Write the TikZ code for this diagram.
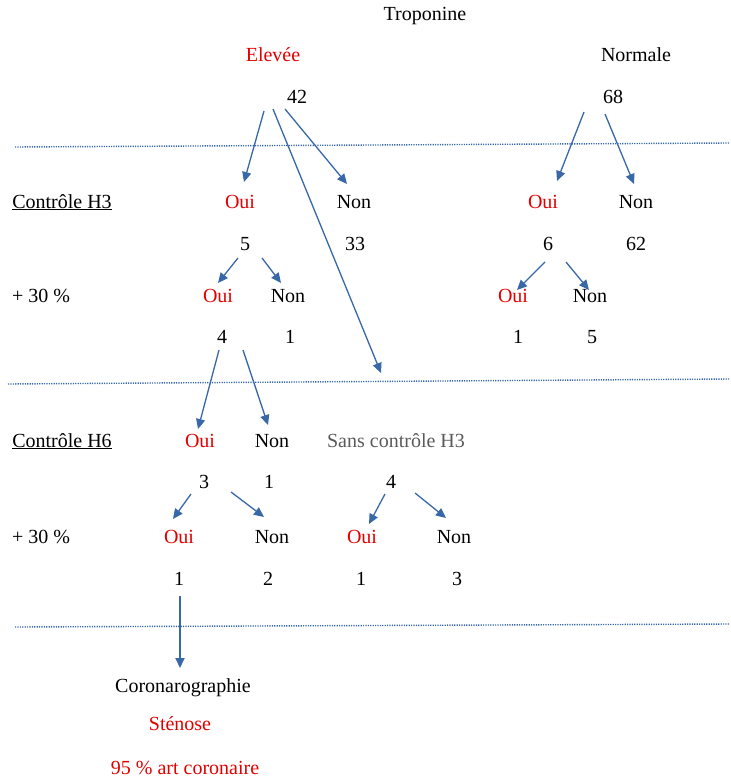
\documentclass[tikz,border=0pt]{standalone}
\usepackage{fontspec}
\setmainfont{Liberation Serif}
\usetikzlibrary{arrows.meta}
\definecolor{arrblue}{RGB}{56,104,168}
\definecolor{txtred}{RGB}{226,0,0}
\definecolor{txtgray}{RGB}{90,90,90}
\begin{document}
\begin{tikzpicture}[x=1pt,y=-1pt,
  lbl/.style={font=\fontsize{20}{24}\selectfont, inner sep=0pt, anchor=base, text=black},
  yes/.style={lbl, text=txtred},
  grey/.style={lbl, text=txtgray},
  arr/.style={draw=arrblue, line width=1.3pt, -{Triangle[length=10pt,width=9pt]}},
  sep/.style={draw=arrblue, line width=1.4pt, dash pattern=on 1.2pt off 1.2pt}]
\useasboundingbox (0,0) rectangle (730,778);

% separators
\coordinate (s1a) at (15,147); \coordinate (s1b) at (730,143);
\coordinate (s2a) at (8,384);  \coordinate (s2b) at (730,379);
\coordinate (s3a) at (15,627); \coordinate (s3b) at (730,624);
\draw[sep] (s1a) -- (s1b);
\draw[sep] (s2a) -- (s2b);
\draw[sep] (s3a) -- (s3b);

% top
\node[lbl] (trop) at (425,21) {Troponine};
\node[yes] (elev) at (273,62) {Elevée};
\node[lbl] (norm) at (636,62) {Normale};
\node[lbl] (n42) at (297,104) {42};
\node[lbl] (n68) at (613,104) {68};

% H3 row
\node[lbl] (ch3) at (62,208) {\underline{Contrôle H3}};
\node[yes] (oA) at (240,208) {Oui};
\node[lbl] (nA) at (354,208) {Non};
\node[yes] (oB) at (543,208) {Oui};
\node[lbl] (nB) at (636,208) {Non};

\node[lbl] (v5) at (245,250) {5};
\node[lbl] (v33) at (355,250) {33};
\node[lbl] (v6) at (548,250) {6};
\node[lbl] (v62) at (636,250) {62};

\node[lbl] (p30a) at (41,302) {+ 30 \%};
\node[yes] (oC) at (218,302) {Oui};
\node[lbl] (nC) at (288,302) {Non};
\node[yes] (oD) at (513,302) {Oui};
\node[lbl] (nD) at (590,302) {Non};

\node[lbl] (v4) at (222,343) {4};
\node[lbl] (v1a) at (290,343) {1};
\node[lbl] (v1b) at (518,343) {1};
\node[lbl] (v5b) at (592,343) {5};

% H6 row
\node[lbl] (ch6) at (62,447) {\underline{Contrôle H6}};
\node[yes] (oE) at (200,447) {Oui};
\node[lbl] (nE) at (272,447) {Non};
\node[grey] (sans) at (396,447) {Sans contrôle H3};

\node[lbl] (v3) at (204,488) {3};
\node[lbl] (v1c) at (269,488) {1};
\node[lbl] (v4b) at (391,488) {4};

\node[lbl] (p30b) at (41,543) {+ 30 \%};
\node[yes] (oF) at (179,543) {Oui};
\node[lbl] (nF) at (272,543) {Non};
\node[yes] (oG) at (362,543) {Oui};
\node[lbl] (nG) at (454,543) {Non};

\node[lbl] (v1d) at (179,585) {1};
\node[lbl] (v2) at (268,585) {2};
\node[lbl] (v1e) at (361,585) {1};
\node[lbl] (v3b) at (457,585) {3};

\node[lbl] (coro) at (183,692) {Coronarographie};
\node[yes] (sten) at (180,730) {Sténose};
\node[yes] (art) at (185,774) {95 \% art coronaire};

% arrow end points
\coordinate (a1s) at (264,111); \coordinate (a1e) at (244,182);
\coordinate (a2s) at (273,109); \coordinate (a2e) at (381,373);
\coordinate (a3s) at (285,109); \coordinate (a3e) at (347,184);
\coordinate (b1s) at (584,112); \coordinate (b1e) at (557,181);
\coordinate (b2s) at (605,114); \coordinate (b2e) at (634,184);
\coordinate (c1s) at (238,258); \coordinate (c1e) at (218,283);
\coordinate (c2s) at (262,258); \coordinate (c2e) at (281,283);
\coordinate (d1s) at (545,262); \coordinate (d1e) at (517,290);
\coordinate (d2s) at (566,262); \coordinate (d2e) at (589,290);
\coordinate (e1s) at (219,350); \coordinate (e1e) at (198,429);
\coordinate (e2s) at (243,350); \coordinate (e2e) at (268,425);
\coordinate (f1s) at (191,494); \coordinate (f1e) at (173,519);
\coordinate (f2s) at (231,492); \coordinate (f2e) at (264,517);
\coordinate (g1s) at (385,494); \coordinate (g1e) at (369,524);
\coordinate (g2s) at (415,493); \coordinate (g2e) at (446,518);
\coordinate (h1s) at (180,596); \coordinate (h1e) at (180,668);

\draw[arr] (a1s) -- (a1e);
\draw[arr] (a2s) -- (a2e);
\draw[arr] (a3s) -- (a3e);
\draw[arr] (b1s) -- (b1e);
\draw[arr] (b2s) -- (b2e);
\draw[arr] (c1s) -- (c1e);
\draw[arr] (c2s) -- (c2e);
\draw[arr] (d1s) -- (d1e);
\draw[arr] (d2s) -- (d2e);
\draw[arr] (e1s) -- (e1e);
\draw[arr] (e2s) -- (e2e);
\draw[arr] (f1s) -- (f1e);
\draw[arr] (f2s) -- (f2e);
\draw[arr] (g1s) -- (g1e);
\draw[arr] (g2s) -- (g2e);
\draw[arr, line width=1.8pt] (h1s) -- (h1e);
\end{tikzpicture}
\end{document}
